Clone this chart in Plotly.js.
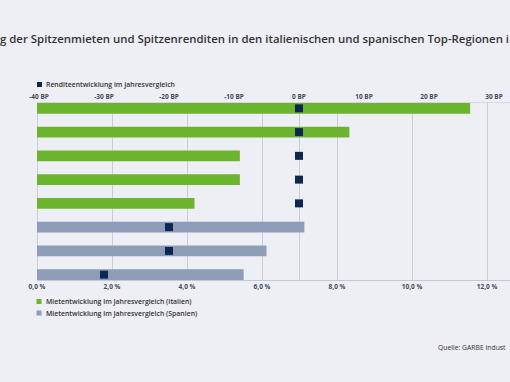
<!DOCTYPE html>
<html><head><meta charset="utf-8">
<script src="https://cdn.plot.ly/plotly-3.0.1.min.js"></script>
<style>html,body{margin:0;padding:0;background:#edeff5;}</style>
</head><body><div id="chart" style="width:510px;height:382px;"></div>
<script>
// ---- data ----
const rows = ['1','2','3','4','5','6','7','8'];
const italyRows = ['1','2','3','4','5'];
const italyRent = [11.55, 8.33, 5.41, 5.41, 4.2];
const spainRows = ['6','7','8'];
const spainRent = [7.13, 6.12, 5.51];
const yieldChange = [0, 0, 0, 0, 0, -20, -20, -30];
const rentTickVals = [0, 2, 4, 6, 8, 10, 12];
const rentTickText = ['0,0 %','2,0 %','4,0 %','6,0 %','8,0 %','10,0 %','12,0 %'];
const yieldTickVals = [-40, -30, -20, -10, 0, 10, 20, 30];
const yieldTickText = ['-40 BP','-30 BP','-20 BP','-10 BP','0 BP','10 BP','20 BP','30 BP'];
const titleText = 'g der Spitzenmieten und Spitzenrenditen in den italienischen und spanischen Top-Regionen i';
const legendYield = 'Renditeentwicklung im Jahresvergleich';
const legendItaly = 'Mietentwicklung im Jahresvergleich (Italien)';
const legendSpain = 'Mietentwicklung im Jahresvergleich (Spanien)';
const sourceText = 'Quelle: GARBE Indust';

// ---- layout geometry ----
const W = 510, H = 382, L = 37, T = 103, B = 280;
const px2x = p => (p - L) / (W - L);
const px2y = p => (B - p) / (B - T);
const green = '#6cb42e', grey = '#8d9cb7', navy = '#0d2850';
const gridc = '#c9cdd8';
const FONT = 'Open Sans';

const traces = [
  {type:'bar', orientation:'h', y: italyRows, x: italyRent, width:0.45,
   marker:{color: green}, showlegend:false, hoverinfo:'x', name: legendItaly},
  {type:'bar', orientation:'h', y: spainRows, x: spainRent, width:0.45,
   marker:{color: grey}, showlegend:false, hoverinfo:'x', name: legendSpain},
  {type:'scatter', mode:'markers', x: yieldChange, y: rows, xaxis:'x2', yaxis:'y',
   marker:{symbol:'square', size:8, color: navy}, showlegend:false, name: legendYield}
];

function sq(x0, y0, color) {
  return {type:'rect', xref:'paper', yref:'paper', x0: px2x(x0), x1: px2x(x0+5),
          y0: px2y(y0), y1: px2y(y0+5), fillcolor: color, line:{width:0}};
}
function lab(x, y, text, size, color, weight) {
  return {xref:'paper', yref:'paper', x: px2x(x), y: px2y(y), xanchor:'left', yanchor:'middle',
          text: text, showarrow:false, font:{family: FONT, size: size, color: color, weight: weight}};
}

const layout = {
  width: W, height: H,
  margin: {l: L, r: 0, t: T, b: H - B, pad: 0},
  paper_bgcolor: '#edeff5', plot_bgcolor: '#edeff5',
  barmode: 'overlay',
  title: {text: titleText, x: 0, xref:'container', xanchor:'left', y: 1 - 39.5/H, yref:'container', yanchor:'middle',
          font:{family: FONT, size: 11.4, color:'#333333', weight: 600}},
  xaxis: {range:[0, (W - L)/37.5], tickvals: rentTickVals, ticktext: rentTickText,
          showgrid:true, gridcolor: gridc, gridwidth:1, zeroline:true, zerolinecolor: gridc, zerolinewidth:1,
          showline:true, linecolor:'#c3c8d3', linewidth:1, ticks:'', fixedrange:true,
          tickfont:{family: FONT, size: 6.5, color:'#454a55', weight: 700}},
  xaxis2: {overlaying:'x', side:'top', range:[(L - 299)/6.5, (W - 299)/6.5],
           tickvals: yieldTickVals, ticktext: yieldTickText, showgrid:false,
           zeroline:true, zerolinecolor: gridc, zerolinewidth:1,
           showline:true, linecolor:'#d3d7e0', linewidth:1, ticks:'',
           tickfont:{family: FONT, size: 6.5, color:'#454a55', weight: 700}},
  yaxis: {type:'category', categoryarray: rows, range:[7.225, -0.225], showticklabels:false,
          showgrid:false, zeroline:false, showline:false, ticks:''},
  shapes: [sq(37, 82, navy), sq(36.5, 299, green), sq(36.5, 310.5, grey)],
  annotations: [
    lab(43.5, 84.5, legendYield, 6.9, '#333333', 600),
    lab(43.5, 301.5, legendItaly, 6.9, '#333333', 600),
    lab(43.5, 313, legendSpain, 6.9, '#333333', 600),
    lab(436, 347, sourceText, 6.8, '#333333', 500)
  ]
};

Plotly.newPlot('chart', traces, layout, {displayModeBar:false, staticPlot:true});
</script></body></html>
